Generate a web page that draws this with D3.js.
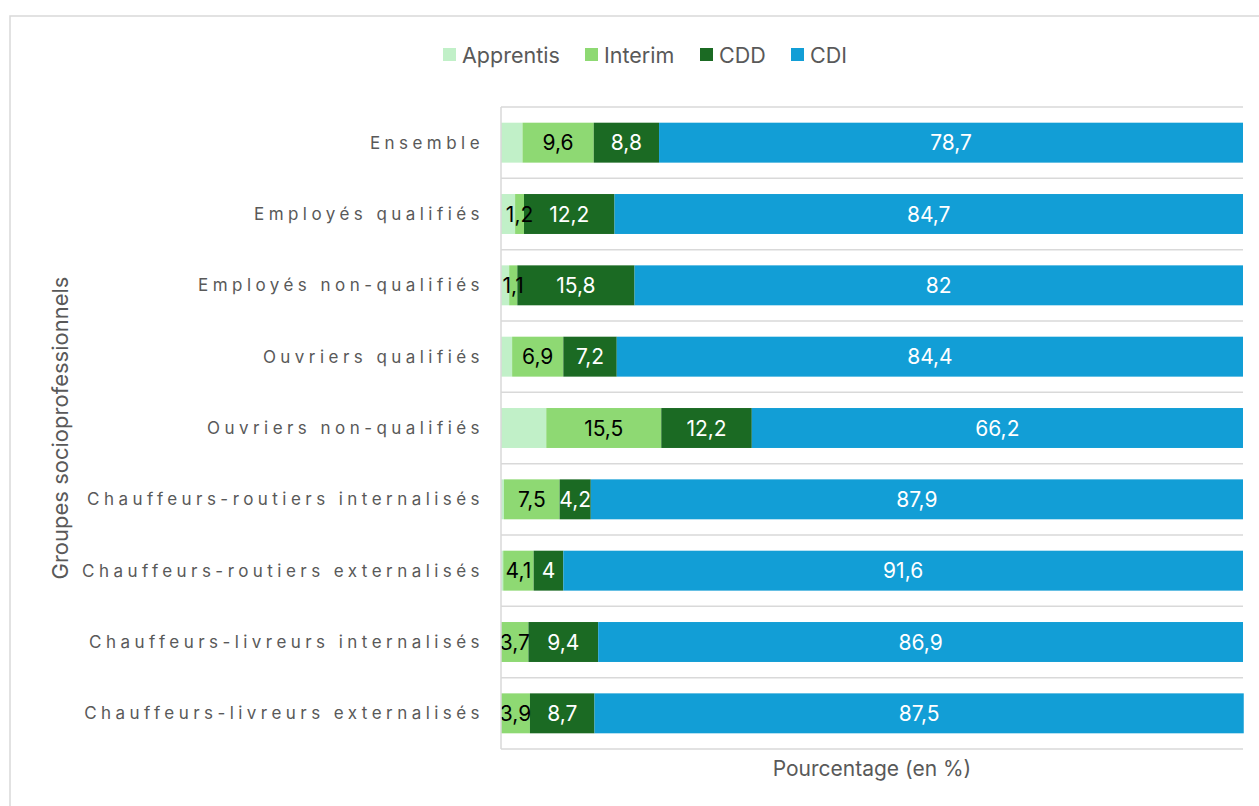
<!DOCTYPE html>
<html lang="fr">
<head>
  <meta charset="UTF-8">
  <title>Contrats par groupe socioprofessionnel</title>
  <script src="https://cdnjs.cloudflare.com/ajax/libs/d3/7.8.5/d3.min.js"></script>
  <style>
    body { margin: 0; background: #fff; }
    svg text { font-family: Inter, "Noto Sans", sans-serif; }
    .cat-label { font-size: 17px; fill: #595959; letter-spacing: 4.45px; }
    .axis-title { font-size: 21px; fill: #595959; }
    .y-title { font-size: 22px; }
    .legend-label { font-size: 21.5px; fill: #595959; }
    .value-label { font-size: 21px; }
  </style>
</head>
<body>
  <div id="chart"></div>
  <script>
    const categories = [
      "Ensemble",
      "Employés qualifiés",
      "Employés non-qualifiés",
      "Ouvriers qualifiés",
      "Ouvriers non-qualifiés",
      "Chauffeurs-routiers internalisés",
      "Chauffeurs-routiers externalisés",
      "Chauffeurs-livreurs internalisés",
      "Chauffeurs-livreurs externalisés"
    ];
    const seriesNames = ["Apprentis", "Interim", "CDD", "CDI"];
    const apprentis = [2.9, 1.9, 1.1, 1.5, 6.1, 0.4, 0.3, 0, 0];
    const interim = [9.6, 1.2, 1.1, 6.9, 15.5, 7.5, 4.1, 3.7, 3.9];
    const cdd = [8.8, 12.2, 15.8, 7.2, 12.2, 4.2, 4, 9.4, 8.7];
    const cdi = [78.7, 84.7, 82, 84.4, 66.2, 87.9, 91.6, 86.9, 87.5];
    const xTicks = [0, 100];

    const colors = ["#c1f0c8", "#8ed973", "#1b6a23", "#129ed6"];
    const labelColors = [null, "#000", "#fff", "#fff"];

    const width = 1259, height = 806;
    const margin = { top: 107, right: 16, bottom: 57, left: 501 };

    const rows = categories.map((c, i) => ({
      cat: c,
      Apprentis: apprentis[i],
      Interim: interim[i],
      CDD: cdd[i],
      CDI: cdi[i]
    }));

    const svg = d3.select("#chart").append("svg")
      .attr("width", width)
      .attr("height", height);

    // chart frame
    svg.append("rect")
      .attr("x", 10).attr("y", 16)
      .attr("width", width + 20).attr("height", height + 20)
      .attr("fill", "none")
      .attr("stroke", "#d9d9d9")
      .attr("stroke-width", 1.5);

    const x = d3.scaleLinear()
      .domain(d3.extent(xTicks))
      .range([margin.left, width - margin.right]);

    const y = d3.scaleBand()
      .domain(categories)
      .range([margin.top, height - margin.bottom])
      .paddingInner(0.44)
      .paddingOuter(0.22);

    // horizontal separators at band boundaries
    const plotH = height - margin.bottom - margin.top;
    const lines = d3.range(categories.length + 1).map(i => margin.top + i * plotH / categories.length);
    svg.append("g").selectAll("line")
      .data(lines)
      .join("line")
      .attr("x1", x(0)).attr("x2", x(100))
      .attr("y1", d => d).attr("y2", d => d)
      .attr("stroke", "#d9d9d9")
      .attr("stroke-width", 1.5);

    const stack = d3.stack().keys(seriesNames)(rows);

    const layer = svg.append("g").selectAll("g")
      .data(stack)
      .join("g")
      .attr("fill", (d, i) => colors[i]);

    layer.selectAll("rect")
      .data(d => d)
      .join("rect")
      .attr("x", d => x(d[0]))
      .attr("y", d => y(d.data.cat))
      .attr("width", d => Math.max(0, x(d[1]) - x(d[0])))
      .attr("height", y.bandwidth());

    // value labels (apprentis not labelled)
    stack.forEach((s, si) => {
      if (si === 0) return;
      svg.append("g").selectAll("text")
        .data(s)
        .join("text")
        .attr("class", "value-label")
        .attr("x", d => (x(d[0]) + x(d[1])) / 2)
        .attr("y", d => y(d.data.cat) + y.bandwidth() / 2)
        .attr("dy", "0.36em")
        .attr("text-anchor", "middle")
        .attr("fill", labelColors[si])
        .text(d => String(+(d[1] - d[0]).toFixed(1)).replace(".", ","));
    });

    // y axis line
    svg.append("line")
      .attr("x1", x(0)).attr("x2", x(0))
      .attr("y1", margin.top).attr("y2", height - margin.bottom)
      .attr("stroke", "#d9d9d9")
      .attr("stroke-width", 1.5);

    // category labels
    svg.append("g").selectAll("text")
      .data(categories)
      .join("text")
      .attr("class", "cat-label")
      .attr("x", x(0) - 17)
      .attr("y", d => y(d) + y.bandwidth() / 2)
      .attr("dy", "0.35em")
      .attr("text-anchor", "end")
      .text(d => d);

    // axis titles
    svg.append("text")
      .attr("class", "axis-title")
      .attr("x", (x(0) + x(100)) / 2)
      .attr("y", 776)
      .attr("text-anchor", "middle")
      .text("Pourcentage (en %)");

    svg.append("text")
      .attr("class", "axis-title y-title")
      .attr("transform", `translate(68, ${(margin.top + height - margin.bottom) / 2}) rotate(-90)`)
      .attr("text-anchor", "middle")
      .text("Groupes socioprofessionnels");

    // legend
    const legendX = [443, 585, 700, 791];
    const legend = svg.append("g").selectAll("g")
      .data(seriesNames)
      .join("g")
      .attr("transform", (d, i) => `translate(${legendX[i]}, 48)`);
    legend.append("rect")
      .attr("width", 13).attr("height", 13)
      .attr("fill", (d, i) => colors[i]);
    legend.append("text")
      .attr("class", "legend-label")
      .attr("x", 19).attr("y", 7)
      .attr("dy", "0.35em")
      .text(d => d);
  </script>
</body>
</html>
